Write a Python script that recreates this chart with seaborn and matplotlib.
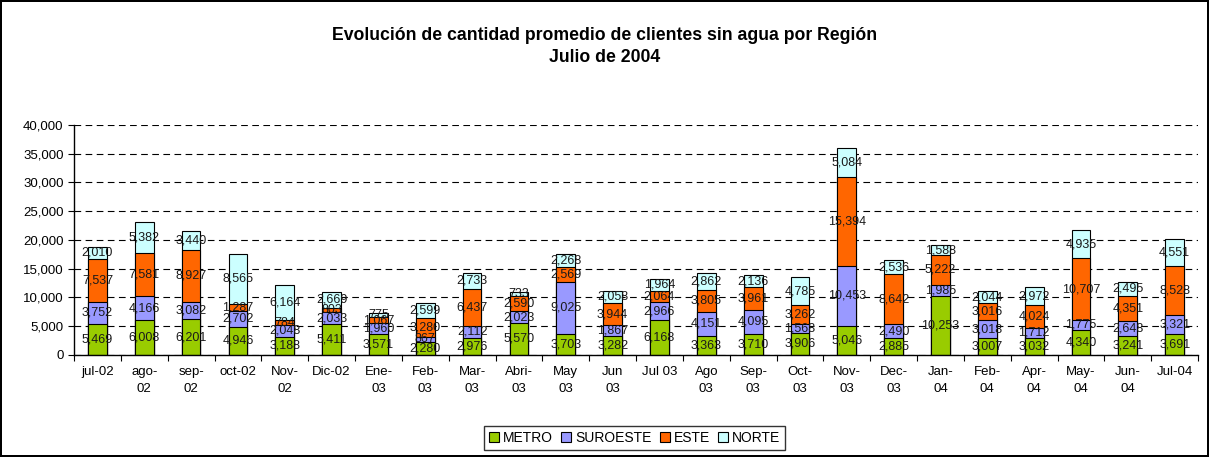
import matplotlib
matplotlib.use("Agg")
import matplotlib.pyplot as plt
from matplotlib.patches import Patch
from matplotlib.ticker import FuncFormatter, MultipleLocator, FixedLocator
import numpy as np
import seaborn as sns

# meses (etiquetas del eje x, con salto de linea como en el original)
meses = ['jul-02', 'ago-\n02', 'sep-\n02', 'oct-02', 'Nov-\n02', 'Dic-02',
         'Ene-\n03', 'Feb-\n03', 'Mar-\n03', 'Abri-\n03', 'May\n03', 'Jun\n03',
         'Jul 03', 'Ago\n03', 'Sep-\n03', 'Oct-\n03', 'Nov-\n03', 'Dec-\n03',
         'Jan-\n04', 'Feb-\n04', 'Apr-\n04', 'May-\n04', 'Jun-\n04', 'Jul-04']

metro = [5469, 6008, 6201, 4946, 3188, 5411, 3571, 2280, 2976, 5570, 3703, 3282,
         6168, 3363, 3710, 3906, 5046, 2885, 10253, 3007, 3032, 4340, 3241, 3691]
suroeste = [3752, 4166, 3082, 2702, 2048, 2033, 1960, 867, 2112, 2023, 9025, 1867,
            2966, 4151, 4095, 1568, 10453, 2490, 1985, 3018, 1712, 1775, 2648, 3321]
este = [7537, 7581, 8927, 1287, 784, 803, 1067, 3280, 6437, 2590, 2569, 3944,
        2064, 3805, 3961, 3262, 15394, 8642, 5222, 3016, 4024, 10707, 4351, 8528]
norte = [2010, 5382, 3440, 8565, 6164, 2669, 775, 2599, 2733, 733, 2268, 2058,
         1964, 2862, 2136, 4785, 5084, 2536, 1588, 2044, 2972, 4935, 2495, 4551]

regiones = ['METRO', 'SUROESTE', 'ESTE', 'NORTE']
colores = ['#99CC00', '#9999FF', '#FF6600', '#CCFFFF']

sns.set_theme(style="white")
plt.rcParams['font.family'] = ['Liberation Sans', 'DejaVu Sans']
plt.rcParams['text.color'] = 'black'
plt.rcParams['xtick.color'] = 'black'
plt.rcParams['ytick.color'] = 'black'

fig = plt.figure(figsize=(12.09, 4.57), dpi=100)
fig.patch.set_edgecolor('black')
fig.patch.set_linewidth(1.5)
ax = fig.add_axes([0.0612, 0.2232, 0.9298, 0.5033])

series = [metro, suroeste, este, norte]
acum = np.cumsum(np.array(series), axis=0)

# apilado: se dibuja primero el total y luego cada acumulado por encima
for k in range(len(series) - 1, -1, -1):
    sns.barplot(x=meses, y=acum[k], order=meses, color=colores[k], width=0.4,
                edgecolor='black', linewidth=0.8, saturation=1, ax=ax, zorder=2)

# etiquetas de valores en el centro de cada segmento
for k, vals in enumerate(series):
    base = acum[k] - np.array(vals)
    for i, v in enumerate(vals):
        ax.text(i, base[i] + v / 2, f"{v:,}", ha='center', va='center',
                fontsize=9, color='#1a1a1a', zorder=5)

ax.set_ylim(0, 40000)
ax.set_xlim(-0.5, len(meses) - 0.5)
ax.yaxis.set_major_locator(MultipleLocator(5000))
ax.yaxis.set_major_formatter(FuncFormatter(lambda v, p: f"{int(v):,}"))
ax.set_axisbelow(True)
ax.yaxis.grid(True, color='black', linestyle=(0, (6, 4)), linewidth=0.8)
ax.xaxis.grid(False)
for s in ['top', 'right']:
    ax.spines[s].set_visible(False)
for s in ['left', 'bottom']:
    ax.spines[s].set_color('black')
    ax.spines[s].set_linewidth(1)

ax.set_xticks(range(len(meses)))
ax.set_xticklabels(meses, fontsize=9.5, linespacing=1.5)
ax.xaxis.set_minor_locator(FixedLocator(np.arange(-0.5, len(meses), 1)))
ax.tick_params(axis='x', which='major', length=0, pad=8)
ax.tick_params(axis='x', which='minor', length=4, color='black', width=0.8,
               bottom=True)
ax.tick_params(axis='y', length=4, color='black', width=0.8, left=True,
               labelsize=9.5)
ax.set_xlabel('')
ax.set_ylabel('')

fig.text(0.5, 1 - 35 / 457, 'Evolución de cantidad promedio de clientes sin agua por Región',
         ha='center', va='center', fontsize=12.7, fontweight='bold')
fig.text(0.5, 1 - 58 / 457, 'Julio de 2004',
         ha='center', va='center', fontsize=12.7, fontweight='bold')

handles = [Patch(facecolor=c, edgecolor='black', linewidth=0.8, label=r)
           for c, r in zip(colores, regiones)]
leg = fig.legend(handles=handles, loc='center', bbox_to_anchor=(0.525, 1 - 438 / 457),
                 ncol=4, fontsize=10, frameon=True, fancybox=False,
                 handlelength=0.7, handleheight=0.7, handletextpad=0.3,
                 columnspacing=0.6, borderpad=0.35)
leg.get_frame().set_edgecolor('black')
leg.get_frame().set_linewidth(1)

fig.savefig('out.png', dpi=100)
